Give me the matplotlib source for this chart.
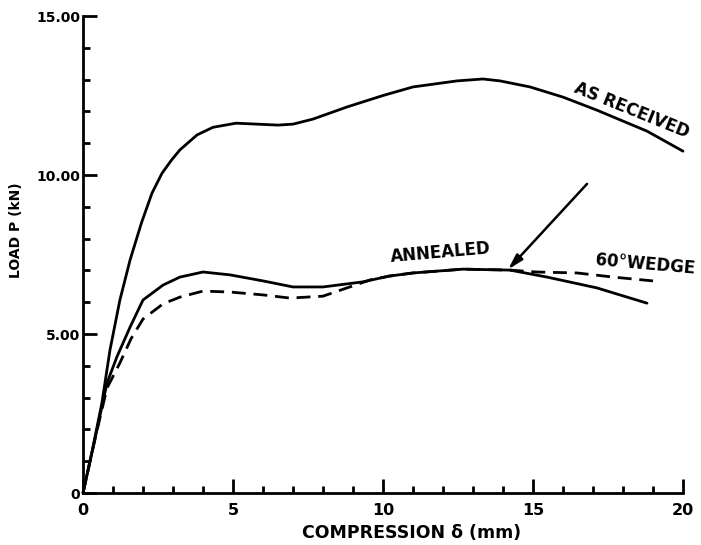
import matplotlib.pyplot as plt

# load-compression curves
recv_s = [0, 0.3, 0.63, 0.9, 1.23, 1.57, 1.95, 2.3, 2.63, 2.95, 3.23, 3.8, 4.33, 5.1,
          5.8, 6.5, 7.0, 7.67, 8.8, 10.0, 11.0, 12.47, 13.33, 13.9, 14.9, 16.0,
          17.13, 18.8, 20.0]
recv_p = [0, 1.3, 2.83, 4.5, 6.07, 7.33, 8.5, 9.43, 10.05, 10.47, 10.79, 11.26, 11.5,
          11.63, 11.6, 11.57, 11.6, 11.76, 12.14, 12.5, 12.77, 12.96, 13.02, 12.96,
          12.77, 12.45, 12.04, 11.38, 10.75]

ann_s = [0, 0.4, 0.8, 1.13, 1.57, 2.0, 2.67, 3.23, 4.0, 4.9, 6.0, 7.0, 8.0, 9.33,
         10.2, 11.0, 12.67, 14.23, 15.47, 17.13, 18.8]
ann_p = [0, 1.7, 3.46, 4.28, 5.22, 6.07, 6.54, 6.79, 6.95, 6.86, 6.67, 6.48, 6.48,
         6.64, 6.82, 6.92, 7.04, 7.01, 6.79, 6.45, 5.97]

wedge_s = [0, 0.4, 0.8, 1.23, 1.6, 2.0, 2.67, 3.23, 4.0, 4.9, 6.0, 6.9, 8.0, 8.8,
           9.57, 10.2, 11.0, 12.67, 14.23, 15.13, 16.47, 17.67, 19.0]
wedge_p = [0, 1.7, 3.3, 4.09, 4.85, 5.47, 5.95, 6.16, 6.35, 6.32, 6.23, 6.13, 6.19,
           6.45, 6.7, 6.82, 6.92, 7.04, 7.01, 6.95, 6.92, 6.79, 6.67]

xticks = [0, 5, 10, 15, 20]
yticks = [0, 5, 10, 15]
ylabels = ['0', '5.00', '10.00', '15.00']

fig = plt.figure(figsize=(7.01, 5.45), dpi=100)
ax = fig.add_axes([0.1184, 0.0954, 0.8559, 0.8752])

kw = dict(color='black', lw=2.0, solid_capstyle='round', solid_joinstyle='round',
          clip_on=False)
ax.plot(recv_s, recv_p, **kw)
ax.plot(ann_s, ann_p, **kw)
ax.plot(wedge_s, wedge_p, color='black', lw=2.0, ls=(0, (5, 2.8)), clip_on=False)

txt = dict(fontsize=12, fontweight='bold', ha='center', va='center')
ax.text(18.3, 12.05, 'AS RECEIVED', rotation=-22, **txt)
ax.text(11.93, 7.55, 'ANNEALED', rotation=5, **txt)
ax.text(18.73, 7.2, '60°WEDGE', rotation=-5, **txt)

ax.annotate('', xy=(14.17, 7.03), xytext=(16.8, 9.72),
            arrowprops=dict(arrowstyle='-|>,head_length=0.9,head_width=0.25',
                            color='black', lw=1.8, shrinkA=0, shrinkB=0))

ax.set_xlim(0, 20)
ax.set_ylim(0, 15)
ax.spines['top'].set_visible(False)
ax.spines['right'].set_visible(False)
for sp in ('left', 'bottom'):
    ax.spines[sp].set_linewidth(2.0)

ax.set_xticks(xticks)
ax.set_xticklabels([str(v) for v in xticks], fontsize=11.5, fontweight='bold')
ax.set_yticks(yticks)
ax.set_yticklabels(ylabels, fontsize=10, fontweight='bold')
ax.set_xticks(range(0, 21), minor=True)
ax.set_yticks(range(0, 16), minor=True)
ax.tick_params(which='major', direction='in', length=10, width=2)
ax.tick_params(which='minor', direction='in', length=5, width=2)
ax.tick_params(axis='x', pad=7)
ax.tick_params(axis='y', pad=2)

ax.set_xlabel('COMPRESSION δ (mm)', fontsize=12.5, fontweight='bold')
ax.xaxis.set_label_coords(0.548, -0.065)
ax.set_ylabel('LOAD P (kN)', fontsize=10, fontweight='bold')
ax.yaxis.set_label_coords(-0.1, 0.55)

fig.savefig('out.png', dpi=100)
